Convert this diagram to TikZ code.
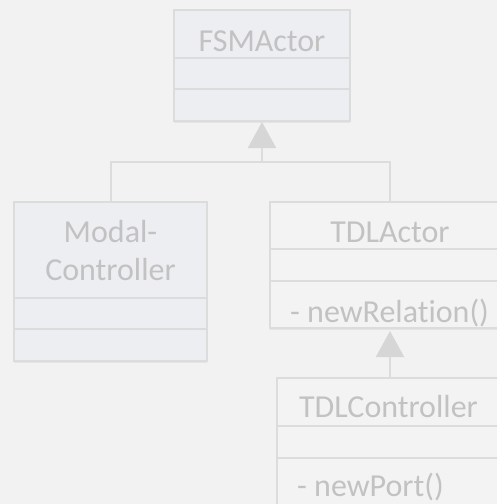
\documentclass[tikz,border=0pt]{standalone}
\usepackage{fontspec}
\setmainfont{Carlito}[Ligatures=NoCommon]
\usetikzlibrary{arrows.meta,shadows}
\definecolor{bgcol}{HTML}{F2F2F2}
\definecolor{boxblue}{HTML}{EDEEF2}
\definecolor{boxplain}{HTML}{F3F3F3}
\definecolor{edgecol}{HTML}{DCDCDC}
\definecolor{txtcol}{HTML}{C2C2C2}
\definecolor{arrcol}{HTML}{D6D6D6}
\begin{document}
\begin{tikzpicture}[x=1pt,y=-1pt,
  classbox/.style={draw=edgecol,line width=2pt,inner sep=0pt,
    drop shadow={opacity=0.12,shadow xshift=0pt,shadow yshift=-2pt}},
  divider/.style={draw=edgecol,line width=2pt},
  label/.style={text=txtcol,font=\fontsize{32}{38}\selectfont,inner sep=0pt},
  link/.style={draw=edgecol,line width=2pt},
  inherit/.style={link,-{Triangle[length=26pt,width=28pt,fill=arrcol,color=arrcol]}}]
\useasboundingbox (0,0) rectangle (497,504);
\clip (0,0) rectangle (497,504);
\fill[bgcol] (0,0) rectangle (497,504);

% FSMActor
\node[classbox,fill=boxblue,minimum width=176pt,minimum height=111pt] (fsm) at (262,65.5) {};
\draw[divider] (fsm.west |- 0,58) -- (fsm.east |- 0,58);
\draw[divider] (fsm.west |- 0,89) -- (fsm.east |- 0,89);
\node[label] (fsmname) at (262,41) {FSMActor};

% Modal-Controller
\node[classbox,fill=boxblue,minimum width=193pt,minimum height=159pt] (modal) at (110.5,281.5) {};
\draw[divider] (modal.west |- 0,298) -- (modal.east |- 0,298);
\draw[divider] (modal.west |- 0,329) -- (modal.east |- 0,329);
\node[label] (modalname1) at (110.5,232) {Modal-};
\node[label] (modalname2) at (110.5,270) {Controller};

% TDLActor
\node[classbox,fill=boxplain,minimum width=250pt,minimum height=126pt] (tdl) at (395,265) {};
\draw[divider] (tdl.west |- 0,249) -- (tdl.east |- 0,249);
\draw[divider] (tdl.west |- 0,281) -- (tdl.east |- 0,281);
\node[label] (tdlname) at (390,232) {TDLActor};
\node[label,anchor=west] (tdlop) at (290,313) {- newRelation()};

% TDLController
\node[classbox,fill=boxplain,minimum width=250pt,minimum height=160pt] (ctl) at (402,458) {};
\draw[divider] (ctl.west |- 0,426) -- (ctl.east |- 0,426);
\draw[divider] (ctl.west |- 0,458) -- (ctl.east |- 0,458);
\node[label] (ctlname) at (388.5,407) {TDLController};
\node[label,anchor=west] (ctlop) at (297,487) {- newPort()};

% generalisation links
\coordinate (join) at (262,162);
\draw[link] (modal.north) |- (join) -| (390,202);
\draw[inherit] (join) -- (fsm.south);
\draw[inherit] (390,378) -- (390,331);
\end{tikzpicture}
\end{document}
